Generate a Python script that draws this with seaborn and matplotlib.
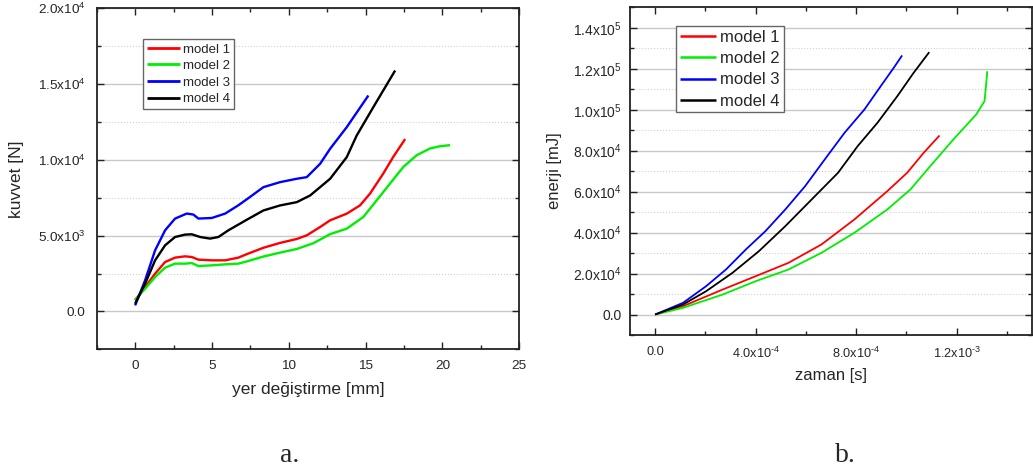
import numpy as np
import pandas as pd
import matplotlib
matplotlib.use("Agg")
import matplotlib.pyplot as plt
from matplotlib.ticker import MultipleLocator, FuncFormatter
import seaborn as sns

# ---- (a) force [N] vs displacement [mm] ----
m1_x = [0.0, 0.65, 1.3, 1.95, 2.6, 3.25, 3.69, 4.12, 4.99, 5.86, 6.72, 7.27, 8.35, 9.43, 10.52,
        11.17, 12.04, 12.69, 13.77, 14.64, 15.29, 16.15, 16.8, 17.57]
m1_y = [727, 1606, 2491, 3258, 3549, 3634, 3588, 3416, 3370, 3370, 3549, 3780, 4200, 4520, 4780,
        5020, 5570, 6010, 6450, 7000, 7780, 9100, 10200, 11370]

m2_x = [0.0, 0.65, 1.3, 1.95, 2.6, 3.25, 3.69, 4.12, 4.99, 5.86, 6.72, 7.27, 8.35, 9.43, 10.52,
        11.6, 12.69, 13.77, 14.85, 15.72, 16.59, 17.46, 18.33, 19.19, 19.84, 20.5]
m2_y = [773, 1500, 2267, 2888, 3152, 3152, 3192, 2993, 3040, 3106, 3152, 3300, 3620, 3880, 4120,
        4500, 5100, 5460, 6230, 7330, 8440, 9540, 10310, 10750, 10900, 10970]

m3_x = [0.0, 0.65, 1.3, 1.95, 2.6, 3.36, 3.79, 4.12, 4.99, 5.86, 6.72, 7.27, 8.35, 9.43, 10.52,
        11.17, 12.04, 12.69, 13.77, 15.18]
m3_y = [396, 2050, 4030, 5350, 6125, 6456, 6390, 6125, 6165, 6456, 7004, 7400, 8199, 8529, 8753,
        8859, 9742, 10732, 12157, 14247]

m4_x = [0.0, 0.65, 1.3, 1.95, 2.6, 3.25, 3.69, 4.23, 4.88, 5.42, 6.07, 7.27, 8.35, 9.43, 10.52,
        11.39, 12.69, 13.77, 14.42, 15.5, 16.92]
m4_y = [509, 1830, 3370, 4361, 4910, 5068, 5088, 4910, 4804, 4910, 5352, 6050, 6662, 6992, 7210,
        7651, 8753, 10177, 11609, 13476, 15896]

# ---- (b) energy [mJ] vs time [s] ----
e1_t = [0.0, 1.11e-4, 2.69e-4, 4.0e-4, 5.31e-4, 6.62e-4, 7.93e-4, 9.24e-4, 1.003e-3, 1.069e-3, 1.132e-3]
e1_e = [0, 4070, 12210, 18700, 25250, 34190, 46400, 60220, 69200, 78970, 87420]

e2_t = [0.0, 1.11e-4, 2.69e-4, 4.0e-4, 5.31e-4, 6.62e-4, 7.93e-4, 9.24e-4, 1.016e-3, 1.095e-3,
        1.187e-3, 1.278e-3, 1.311e-3, 1.318e-3, 1.322e-3]
e2_e = [0, 3260, 9770, 16260, 21980, 30130, 39900, 51280, 61050, 72430, 85470, 97680, 104160,
        113110, 118800]

e3_t = [0.0, 1.11e-4, 2.03e-4, 2.82e-4, 3.61e-4, 4.39e-4, 5.18e-4, 5.97e-4, 6.75e-4, 7.54e-4,
        8.33e-4, 8.98e-4, 9.5e-4, 9.83e-4]
e3_e = [0, 5700, 13830, 21980, 31750, 40700, 51280, 62670, 75700, 88740, 100100, 111500, 120500, 126500]

e4_t = [0.0, 1.11e-4, 2.03e-4, 3.08e-4, 4.13e-4, 5.18e-4, 6.23e-4, 7.28e-4, 8.06e-4, 8.85e-4,
        9.64e-4, 1.029e-3, 1.091e-3]
e4_e = [0, 4880, 11380, 20370, 30920, 43130, 56170, 69200, 82200, 93630, 106620, 118040, 128100]

models = ["model 1", "model 2", "model 3", "model 4"]
colors = ["#ff0000", "#00ee00", "#0000ff", "#000000"]

force_df = pd.concat([
    pd.DataFrame({"x": x, "y": y, "model": m})
    for x, y, m in zip([m1_x, m2_x, m3_x, m4_x], [m1_y, m2_y, m3_y, m4_y], models)
], ignore_index=True)
energy_df = pd.concat([
    pd.DataFrame({"x": x, "y": y, "model": m})
    for x, y, m in zip([e1_t, e2_t, e3_t, e4_t], [e1_e, e2_e, e3_e, e4_e], models)
], ignore_index=True)

sns.set_style("ticks")
plt.rcParams["font.family"] = ["Liberation Sans", "DejaVu Sans"]
plt.rcParams["mathtext.fontset"] = "custom"
plt.rcParams["mathtext.rm"] = "Liberation Sans"
plt.rcParams["mathtext.it"] = "Liberation Sans:italic"
plt.rcParams["mathtext.bf"] = "Liberation Sans:bold"
plt.rcParams["lines.solid_joinstyle"] = "round"
plt.rcParams["lines.solid_capstyle"] = "butt"


def sci_fmt(v, pos=None):
    if abs(v) < 1e-12:
        return "0.0"
    exp = int(np.floor(np.log10(abs(v)) + 1e-9))
    mant = v / 10 ** exp
    sign = r"\text{-}" if exp < 0 else ""
    return r"%.1fx10$^{%s%d}$" % (mant, sign, abs(exp))


W, H = 1033, 473
fig = plt.figure(figsize=(W / 100, H / 100), dpi=100)
ax1 = fig.add_axes([96.7 / W, 1 - 349.3 / H, (519.3 - 96.7) / W, (349.3 - 8.3) / H])
ax2 = fig.add_axes([630 / W, 1 - 335 / H, (1032 - 630) / W, (335 - 7.3) / H])

palette = dict(zip(models, colors))
sns.lineplot(data=force_df, x="x", y="y", hue="model", palette=palette,
             sort=False, estimator=None, linewidth=1.7, ax=ax1)
sns.lineplot(data=energy_df, x="x", y="y", hue="model", palette=palette,
             sort=False, estimator=None, linewidth=1.3, ax=ax2)

ax1.set_xlim(-2.5, 25)
ax1.set_ylim(-2500, 20000)
ax1.xaxis.set_major_locator(MultipleLocator(5))
ax1.xaxis.set_minor_locator(MultipleLocator(2.5))
ax1.yaxis.set_major_locator(MultipleLocator(5000))
ax1.yaxis.set_minor_locator(MultipleLocator(2500))
ax1.yaxis.set_major_formatter(FuncFormatter(sci_fmt))
ax1.set_xlabel("yer değiştirme [mm]", fontsize=12.5, labelpad=7)
ax1.set_ylabel("kuvvet [N]", fontsize=12.5, labelpad=10)

ax2.set_xlim(-1e-4, 1.5e-3)
ax2.set_ylim(-1e4, 1.5e5)
ax2.xaxis.set_major_locator(MultipleLocator(4e-4))
ax2.xaxis.set_minor_locator(MultipleLocator(2e-4))
ax2.yaxis.set_major_locator(MultipleLocator(2e4))
ax2.yaxis.set_minor_locator(MultipleLocator(1e4))
ax2.xaxis.set_major_formatter(FuncFormatter(sci_fmt))
ax2.yaxis.set_major_formatter(FuncFormatter(sci_fmt))
ax2.set_xlabel("zaman [s]", fontsize=12, labelpad=5)
ax2.set_ylabel("enerji [mJ]", fontsize=12, labelpad=8)

for ax in (ax1, ax2):
    ax.grid(True, which="major", axis="y", color="#c8c8c8", linewidth=1.0, linestyle="-")
    ax.grid(True, which="minor", axis="y", color="#d2d2d2", linewidth=0.8, linestyle=":")
    ax.set_axisbelow(True)
    ax.tick_params(which="both", direction="in", top=True, right=True,
                   width=1.0, color="#222222")
    ax.tick_params(which="major", length=5)
    ax.tick_params(which="minor", length=3)
    for sp in ax.spines.values():
        sp.set_linewidth(1.3)
        sp.set_color("#222222")
        sp.set_visible(True)

ax1.tick_params(axis="both", which="both", labelsize=9.7, pad=8)
ax2.tick_params(axis="y", which="both", labelsize=10, pad=6)
ax2.tick_params(axis="x", which="both", labelsize=9.2, pad=8)

leg1 = ax1.legend(loc="upper left", bbox_to_anchor=(0.109, 0.909), fontsize=9.5,
                  frameon=True, fancybox=False, edgecolor="#666666", framealpha=1,
                  handlelength=2.5, handletextpad=0.26, labelspacing=0.33,
                  borderpad=0.3, borderaxespad=0, title=None)
leg1.get_frame().set_linewidth(1.0)
for h in leg1.get_lines():
    h.set_linewidth(2.0)

leg2 = ax2.legend(loc="upper left", bbox_to_anchor=(0.114, 0.942), fontsize=12,
                  frameon=True, fancybox=False, edgecolor="#666666", framealpha=1,
                  handlelength=2.2, handletextpad=0.25, labelspacing=0.37,
                  borderpad=0.23, borderaxespad=0, title=None)
leg2.get_frame().set_linewidth(1.0)
for h in leg2.get_lines():
    h.set_linewidth(1.8)

fig.text(290 / W, 1 - 455 / H, "a.", fontsize=20, family=["Liberation Serif"],
         ha="center", va="center")
fig.text(845 / W, 1 - 455 / H, "b.", fontsize=20, family=["Liberation Serif"],
         ha="center", va="center")

fig.savefig("out.png", dpi=100)
